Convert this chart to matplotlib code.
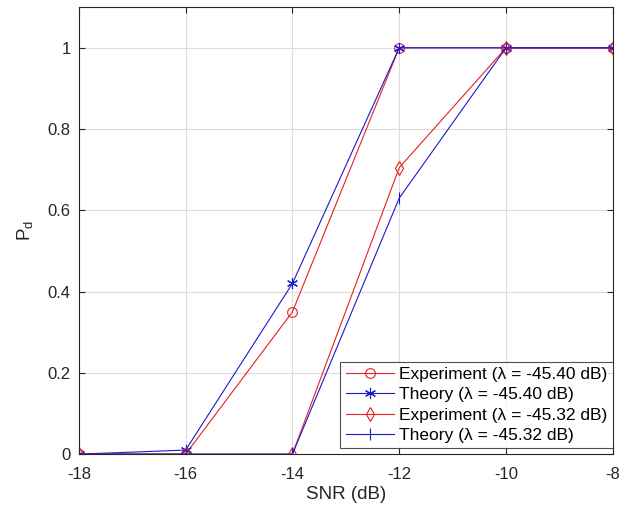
import numpy as np
import matplotlib
matplotlib.use("Agg")
import matplotlib.pyplot as plt

plt.rcParams['font.family'] = ['Liberation Sans', 'DejaVu Sans']
plt.rcParams['mathtext.fontset'] = 'custom'
plt.rcParams['mathtext.rm'] = 'Liberation Sans'
plt.rcParams['axes.unicode_minus'] = False

snr = [-18, -16, -14, -12, -10, -8]
exp_4540 = [0, 0, 0.35, 1, 1, 1]
theory_4540 = [0, 0.01, 0.42, 1, 1, 1]
exp_4532 = [0, 0, 0, 0.705, 1, 1]
theory_4532 = [0, 0, 0, 0.63, 1, 1]

fig = plt.figure(figsize=(6.41, 5.12), dpi=100)
ax = fig.add_axes([0.123, 0.113, 0.833, 0.873])

red = '#e8201c'
blue = '#1a1acc'
ax.plot(snr, exp_4540, '-o', color=red, lw=0.8, ms=7, mfc='none', mew=0.8,
        label='Experiment (\u03bb = -45.40 dB)')
ax.plot(snr, theory_4540, '-', marker=(6, 2, 0), color=blue, lw=0.8, ms=8, mew=0.8,
        label='Theory (\u03bb = -45.40 dB)')
ax.plot(snr, exp_4532, '-d', color=red, lw=0.8, ms=7, mfc='none', mew=0.8,
        label='Experiment (\u03bb = -45.32 dB)')
ax.plot(snr, theory_4532, '-|', color=blue, lw=0.8, ms=9, mew=0.8,
        label='Theory (\u03bb = -45.32 dB)')

ax.set_xlim(-18, -8)
ax.set_ylim(0, 1.1)
ax.set_xticks([-18, -16, -14, -12, -10, -8])
ax.set_yticks([0, 0.2, 0.4, 0.6, 0.8, 1])
ax.set_yticklabels(['0', '0.2', '0.4', '0.6', '0.8', '1'])
ax.grid(True, color='#dcdcdc', lw=0.8)
ax.set_axisbelow(True)
for s in ax.spines.values():
    s.set_color('#262626')
    s.set_linewidth(0.8)
ax.tick_params(direction='in', length=4, colors='#262626', labelsize=12,
               top=True, right=True, pad=6)
ax.tick_params(axis='x', pad=9)
ax.set_xlabel('SNR (dB)', fontsize=13.5, color='#262626', labelpad=3)
ax.set_ylabel(r'P$_{\rm d}$', fontsize=13.5, color='#262626', labelpad=8)

leg = ax.legend(loc='lower right', fontsize=12.5, frameon=True, fancybox=False,
                borderpad=0.3, labelspacing=0.3, handlelength=2.8,
                handletextpad=0.3, borderaxespad=0.0,
                bbox_to_anchor=(1.0, 0.013))
leg.get_frame().set_edgecolor('#262626')
leg.get_frame().set_linewidth(0.8)

fig.savefig('out.png', dpi=100)
